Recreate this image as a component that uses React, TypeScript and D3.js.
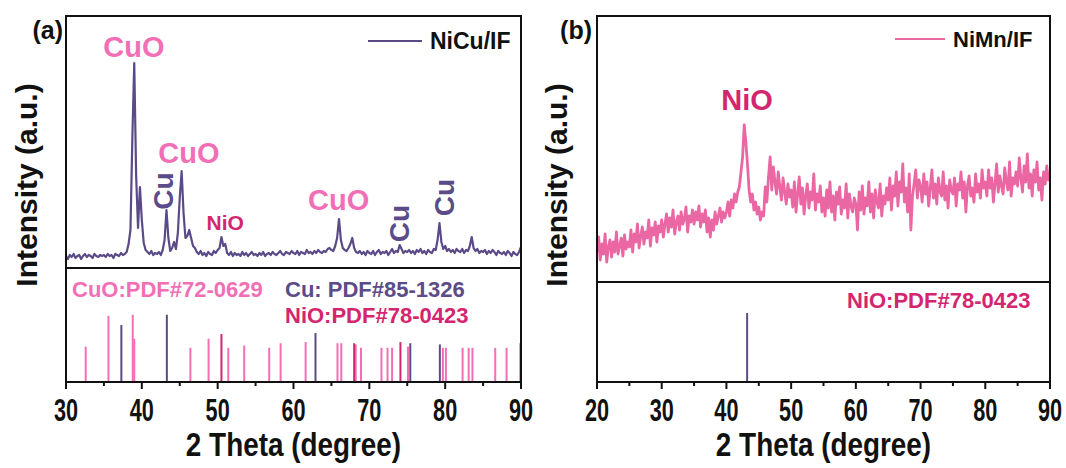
import React from 'react';
import * as d3 from 'd3';

// ---------- Data ----------
// Panel (a) NiCu/IF scan: start 30°, step 0.25°
const scanAStart = 30;
const scanAStep = 0.25;
const nicuIntensity = [
  // 30.00 - 34.75
  12, 9, 13, 11, 14, 10, 12, 13, 9, 12, 14, 11, 13, 12, 10, 14, 12, 11, 13, 12,
  // 35.00 - 39.75
  13, 11, 14, 12, 13, 10, 14, 13, 12, 15, 13, 14, 16, 24, 38, 130, 205, 92, 40, 81,
  // 40.00 - 44.75
  48, 25, 18, 16, 14, 17, 13, 15, 14, 16, 13, 18, 28, 58, 30, 17, 20, 26, 19, 35,
  // 45.00 - 49.75
  70, 97, 55, 30, 32, 38, 30, 22, 20, 16, 14, 17, 13, 15, 12, 16, 14, 13, 17, 15,
  // 50.00 - 54.75
  18, 20, 31, 22, 24, 15, 13, 16, 12, 15, 13, 14, 12, 16, 13, 15, 12, 14, 16, 13,
  // 55.00 - 59.75
  14, 12, 15, 13, 16, 12, 14, 15, 13, 16, 14, 13, 15, 17, 14, 13, 16, 15, 14, 17,
  // 60.00 - 64.75
  15, 14, 17, 13, 16, 15, 14, 18, 15, 16, 14, 17, 15, 18, 16, 15, 17, 16, 19, 20,
  // 65.00 - 69.75
  18, 17, 22, 30, 49, 28, 20, 18, 17, 20, 24, 30, 20, 16, 15, 17, 14, 16, 13, 17,
  // 70.00 - 74.75
  15, 14, 17, 13, 16, 18, 14, 16, 15, 17, 13, 16, 19, 15, 17, 16, 23, 19, 15, 17,
  // 75.00 - 79.75
  16, 18, 15, 17, 14, 18, 16, 19, 15, 17, 14, 18, 16, 15, 19, 18, 28, 45, 26, 19,
  // 80.00 - 84.75
  22, 17, 19, 16, 18, 15, 19, 17, 16, 19, 15, 18, 17, 22, 31, 20, 17, 19, 15, 17,
  // 85.00 - 90.00
  16, 18, 14, 17, 15, 18, 16, 13, 17, 15, 14, 16, 13, 17, 15, 12, 16, 14, 13, 16, 21,
];

// Panel (b) NiMn/IF scan: start 20°, step 0.25°
const scanBStart = 20;
const scanBStep = 0.25;
const nimnIntensity = [
  // 20.00 - 24.75
  30, 45, 22, 38, 28, 48, 20, 35, 42, 25, 40, 30, 50, 28, 36, 44, 26, 47, 33, 40,
  // 25.00 - 29.75
  35, 52, 30, 48, 40, 58, 34, 46, 55, 38, 50, 44, 62, 36, 54, 47, 60, 40, 56, 50,
  // 30.00 - 34.75
  62, 45, 58, 68, 50, 64, 55, 72, 48, 60, 66, 52, 70, 58, 63, 75, 50, 66, 60, 72,
  // 35.00 - 39.75
  58, 70, 62, 76, 55, 68, 60, 72, 50, 64, 45, 62, 52, 70, 58, 66, 74, 60, 70, 64,
  // 40.00 - 44.75
  70, 80, 66, 82, 74, 88, 80, 90, 95, 110, 125, 157, 140, 118, 92, 80, 88, 72, 80, 68,
  // 45.00 - 49.75
  75, 62, 70, 66, 95, 80, 105, 125, 92, 115, 100, 88, 110, 95, 82, 104, 90, 78, 98, 85,
  // 50.00 - 54.75
  92, 75, 100, 70, 88, 105, 78, 94, 68, 86, 98, 74, 90, 82, 108, 72, 88, 80, 96, 70,
  // 55.00 - 59.75
  84, 66, 92, 74, 100, 70, 86, 62, 90, 78, 95, 68, 82, 74, 98, 64, 88, 76, 70, 84,
  // 60.00 - 64.75
  78, 52, 90, 72, 96, 68, 84, 76, 100, 70, 88, 64, 92, 80, 74, 98, 66, 86, 78, 94,
  // 65.00 - 69.75
  82, 104, 72, 96, 86, 110, 76, 100, 90, 118, 80, 94, 70, 108, 52, 86, 98, 112, 84, 102,
  // 70.00 - 74.75
  96, 80, 108, 88, 100, 76, 94, 112, 84, 98, 78, 104, 90, 86, 110, 82, 96, 74, 102, 92,
  // 75.00 - 79.75
  88, 104, 76, 98, 92, 110, 84, 100, 70, 96, 106, 86, 94, 80, 108, 90, 98, 84, 112, 94,
  // 80.00 - 84.75
  100, 86, 112, 94, 104, 80, 98, 118, 90, 106, 96, 88, 114, 100, 92, 120, 86, 104, 98, 110,
  // 85.00 - 90.00
  96, 124, 104, 90, 116, 100, 128, 94, 108, 86, 112, 100, 120, 92, 104, 82, 110, 98, 116, 102, 106,
];

// Reference patterns (position in 2θ, relative intensity)
const cuoRefTheta = [32.6, 35.6, 38.8, 39.0, 46.4, 48.8, 51.4, 53.5, 56.8, 58.3, 61.6, 65.8, 66.3, 68.2, 68.9, 71.6, 72.4, 73.0, 75.1, 79.7, 80.1, 82.3, 83.1, 83.6, 86.6, 88.1, 89.9];
const cuoRefInt = [31, 58, 59, 38, 30, 38, 30, 32, 30, 34, 35, 34, 34, 33, 30, 30, 30, 30, 31, 30, 30, 30, 30, 30, 30, 30, 34];
const cuRefTheta = [37.3, 43.3, 62.9, 75.4, 79.3];
const cuRefInt = [50, 59, 43, 34, 33];
const nioRefTheta = [50.5, 68.0, 74.1];
const nioRefInt = [42, 34, 35];
const nioRefBTheta = [43.2];
const nioRefBInt = [69];

const xTicksA = [30, 40, 50, 60, 70, 80, 90];
const xTicksB = [20, 30, 40, 50, 60, 70, 80, 90];

// ---------- Style ----------
const C_CUO = '#f26fb6';
const C_CU = '#5b4b88';
const C_NIO = '#d4256f';
const C_LINE_A = '#5b4a88';
const C_LINE_B = '#ea67a3';
const SANS = "'Liberation Sans', Arial, sans-serif";

type Ref = { theta: number[]; val: number[]; color: string };

function Panel(props: {
  left: number; right: number; top: number; divider: number; bottom: number;
  domain: [number, number]; ticks: number[];
  start: number; step: number; data: number[]; traceMax: number; lineColor: string; lineWidth: number;
  refs: Ref[]; id: string;
  children?: React.ReactNode;
}) {
  const { left, right, top, divider, bottom, domain, ticks, start, step, data, traceMax, lineColor, lineWidth, refs, id } = props;
  const x = d3.scaleLinear().domain(domain).range([left, right]);
  const yT = d3.scaleLinear().domain([0, traceMax]).range([divider, top]);
  const yR = d3.scaleLinear().domain([0, 100]).range([bottom, divider]);
  const line = d3.line<number>()
    .x((_, i) => x(start + i * step))
    .y((d) => yT(d));
  const minor: number[] = [];
  for (let i = 0; i < ticks.length - 1; i++) minor.push((ticks[i] + ticks[i + 1]) / 2);
  const midX = (left + right) / 2;
  return (
    <g>
      <defs>
        <clipPath id={`clip-${id}`}>
          <rect x={left} y={top} width={right - left} height={divider - top} />
        </clipPath>
      </defs>
      <path d={line(data) || ''} fill="none" stroke={lineColor} strokeWidth={lineWidth} strokeLinejoin="round" clipPath={`url(#clip-${id})`} />
      {refs.map((r, ri) =>
        r.theta.map((t, i) => (
          <line key={`${ri}-${i}`} x1={x(t)} x2={x(t)} y1={yR(0)} y2={yR(r.val[i])} stroke={r.color} strokeWidth={2} />
        ))
      )}
      <rect x={left} y={top} width={right - left} height={bottom - top} fill="none" stroke="#111" strokeWidth={2} />
      <line x1={left} x2={right} y1={divider} y2={divider} stroke="#111" strokeWidth={2} />
      {ticks.map((t) => (
        <g key={t}>
          <line x1={x(t)} x2={x(t)} y1={bottom} y2={bottom + 7} stroke="#111" strokeWidth={2} />
          <text transform={`translate(${x(t)},${bottom + 39}) scale(0.7,1)`} textAnchor="middle" fontFamily={SANS} fontWeight="bold" fontSize={31} fill="#111">{t}</text>
        </g>
      ))}
      {minor.map((t) => (
        <line key={`m${t}`} x1={x(t)} x2={x(t)} y1={bottom} y2={bottom + 4} stroke="#111" strokeWidth={2} />
      ))}
      <text transform={`translate(${midX},456) scale(0.82,1)`} textAnchor="middle" fontFamily={SANS} fontWeight="bold" fontSize={34} fill="#111">2 Theta (degree)</text>
      {props.children}
    </g>
  );
}

export default function App() {
  const xA = d3.scaleLinear().domain([30, 90]).range([66, 521]);
  const xB = d3.scaleLinear().domain([20, 90]).range([597, 1050]);
  return (
    <svg width={1066} height={468} style={{ position: 'absolute', left: 0, top: 0, background: '#fff' }}>
      <rect width={1066} height={468} fill="#fff" />
      <Panel id="a" left={66} right={521} top={16} divider={268} bottom={382} domain={[30, 90]} ticks={xTicksA}
        start={scanAStart} step={scanAStep} data={nicuIntensity} traceMax={252} lineColor={C_LINE_A} lineWidth={2.2}
        refs={[{ theta: cuoRefTheta, val: cuoRefInt, color: C_CUO }, { theta: cuRefTheta, val: cuRefInt, color: C_CU }, { theta: nioRefTheta, val: nioRefInt, color: C_NIO }]}>
        <text x={63} y={39} textAnchor="end" fontFamily={SANS} fontWeight="bold" fontSize={25} fill="#111">(a)</text>
        <text transform="translate(37,185) rotate(-90)" textAnchor="middle" fontFamily={SANS} fontWeight="bold" fontSize={30} fill="#111">Intensity (a.u.)</text>
        <line x1={368} x2={422} y1={41} y2={41} stroke={C_LINE_A} strokeWidth={2} />
        <text x={430} y={49} fontFamily={SANS} fontWeight="bold" fontSize={23} fill="#111">NiCu/IF</text>
        <text x={xA(38.95)} y={57} textAnchor="middle" fontFamily={SANS} fontWeight="bold" fontSize={29} fill={C_CUO}>CuO</text>
        <text x={xA(46.2)} y={163} textAnchor="middle" fontFamily={SANS} fontWeight="bold" fontSize={29} fill={C_CUO}>CuO</text>
        <text x={xA(65.95)} y={210} textAnchor="middle" fontFamily={SANS} fontWeight="bold" fontSize={29} fill={C_CUO}>CuO</text>
        <text x={xA(51.0)} y={230} textAnchor="middle" fontFamily={SANS} fontWeight="bold" fontSize={21} fill={C_NIO}>NiO</text>
        <text transform={`translate(${xA(42.8) + 10},191) rotate(-90)`} textAnchor="middle" fontFamily={SANS} fontWeight="bold" fontSize={28} fill={C_CU}>Cu</text>
        <text transform={`translate(${xA(73.9) + 10},223.5) rotate(-90)`} textAnchor="middle" fontFamily={SANS} fontWeight="bold" fontSize={28} fill={C_CU}>Cu</text>
        <text transform={`translate(${xA(79.8) + 10},197.5) rotate(-90)`} textAnchor="middle" fontFamily={SANS} fontWeight="bold" fontSize={28} fill={C_CU}>Cu</text>
        <text x={72} y={297} fontFamily={SANS} fontWeight="bold" fontSize={22} fill={C_CUO}>CuO:PDF#72-0629</text>
        <text x={285} y={297} fontFamily={SANS} fontWeight="bold" fontSize={22} fill={C_CU}>Cu: PDF#85-1326</text>
        <text x={285} y={323} fontFamily={SANS} fontWeight="bold" fontSize={22} fill={C_NIO}>NiO:PDF#78-0423</text>
      </Panel>
      <Panel id="b" left={597} right={1050} top={16} divider={282} bottom={382} domain={[20, 90]} ticks={xTicksB}
        start={scanBStart} step={scanBStep} data={nimnIntensity} traceMax={266} lineColor={C_LINE_B} lineWidth={2.8}
        refs={[{ theta: nioRefBTheta, val: nioRefBInt, color: C_CU }]}>
        <text x={592} y={39} textAnchor="end" fontFamily={SANS} fontWeight="bold" fontSize={25} fill="#111">(b)</text>
        <text transform="translate(567,185) rotate(-90)" textAnchor="middle" fontFamily={SANS} fontWeight="bold" fontSize={30} fill="#111">Intensity (a.u.)</text>
        <line x1={895} x2={945} y1={39} y2={39} stroke={C_LINE_B} strokeWidth={2} />
        <text x={953} y={47} fontFamily={SANS} fontWeight="bold" fontSize={22} fill="#111">NiMn/IF</text>
        <text x={xB(43.2)} y={110} textAnchor="middle" fontFamily={SANS} fontWeight="bold" fontSize={29} fill={C_NIO}>NiO</text>
        <text x={847} y={308} fontFamily={SANS} fontWeight="bold" fontSize={22} fill={C_NIO}>NiO:PDF#78-0423</text>
      </Panel>
    </svg>
  );
}
